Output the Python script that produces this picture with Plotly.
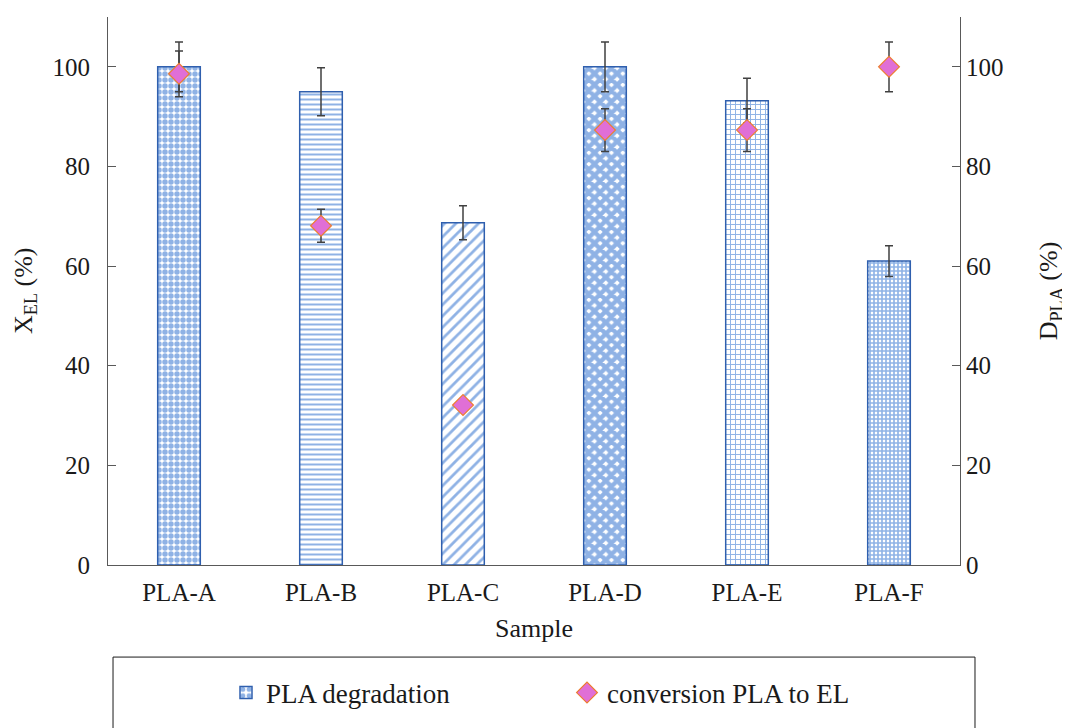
import plotly.graph_objects as go

samples = ["PLA-A", "PLA-B", "PLA-C", "PLA-D", "PLA-E", "PLA-F"]
degradation = [100, 95, 68.7, 100, 93.2, 61]
degradation_err = [5, 4.8, 3.4, 5, 4.5, 3.1]
conversion = [98.6, 68.1, 32.1, 87.3, 87.3, 100]
conversion_err = [4.6, 3.3, 1.0, 4.3, 4.3, 5]
y_ticks = [0, 20, 40, 60, 80, 100]
legend_names = ["PLA degradation", "conversion PLA to EL"]

FONT = "Liberation Serif"
TXT = "#1a1a1a"

fig = go.Figure()
fig.add_trace(go.Bar(
    x=samples, y=degradation, name=legend_names[0], width=0.3,
    marker=dict(
        color="white",
        line=dict(color="#2f5fae", width=1.5),
        pattern=dict(
            shape=[".", "-", "/", "x", "+", "+"],
            fgcolor="#1f66cc", bgcolor="white",
            size=[6, 5, 8, 8, 5, 4],
            solidity=[0.65, 0.4, 0.35, 0.8, 0.35, 0.65],
        ),
    ),
    error_y=dict(type="data", array=degradation_err, color="#404040", thickness=1.5, width=4),
    yaxis="y",
))
fig.add_trace(go.Scatter(
    x=samples, y=conversion, name=legend_names[1], mode="markers",
    marker=dict(symbol="diamond", size=16, color="#e06fd6", line=dict(color="#ed7d31", width=1.2)),
    error_y=dict(type="data", array=conversion_err, color="#404040", thickness=1.5, width=4),
    yaxis="y2",
))

axis_common = dict(
    range=[0, 110], tickvals=y_ticks, showgrid=False, zeroline=False,
    showline=True, linecolor="#595959", linewidth=1,
    tickfont=dict(family=FONT, size=25, color=TXT),
    ticks="inside", ticklen=8, tickcolor="#595959", automargin=False,
)

fig.update_layout(
    width=1062, height=720,
    margin=dict(l=100, r=110, t=9, b=163, autoexpand=False),
    paper_bgcolor="white", plot_bgcolor="white",
    font=dict(family=FONT, color=TXT),
    showlegend=True,
    xaxis=dict(
        showline=True, linecolor="#595959", linewidth=1, showgrid=False,
        tickfont=dict(family=FONT, size=25, color=TXT), ticks="",
        ticklabelstandoff=5, automargin=False,
    ),
    yaxis=dict(side="left", ticklabelstandoff=12, **axis_common),
    yaxis2=dict(side="right", overlaying="y", ticklabelstandoff=0, **axis_common),
    legend=dict(
        orientation="h", x=0.1385, xanchor="left", y=-0.2336, yanchor="middle",
        font=dict(family=FONT, size=27, color=TXT),
        entrywidth=296, entrywidthmode="pixels",
        bgcolor="rgba(0,0,0,0)", borderwidth=0,
    ),
    annotations=[
        dict(text="Sample", xref="paper", yref="paper", x=0.5, y=-0.115,
             xanchor="center", yanchor="middle", showarrow=False,
             font=dict(family=FONT, size=26, color=TXT)),
        dict(text="X<sub>EL</sub> (%)", xref="paper", yref="paper", x=-0.0974, y=0.5,
             xanchor="center", yanchor="middle", showarrow=False, textangle=-90,
             font=dict(family=FONT, size=26, color=TXT)),
        dict(text="D<sub>PLA</sub> (%)", xref="paper", yref="paper", x=1.106, y=0.5,
             xanchor="center", yanchor="middle", showarrow=False, textangle=-90,
             font=dict(family=FONT, size=26, color=TXT)),
    ],
    shapes=[dict(
        type="rect", xref="paper", yref="paper",
        x0=0.0059, x1=1.0176, y0=-0.33, y1=-0.168,
        line=dict(color=TXT, width=1), fillcolor="rgba(0,0,0,0)", layer="below",
    )],
)

fig.write_html("out.html")
